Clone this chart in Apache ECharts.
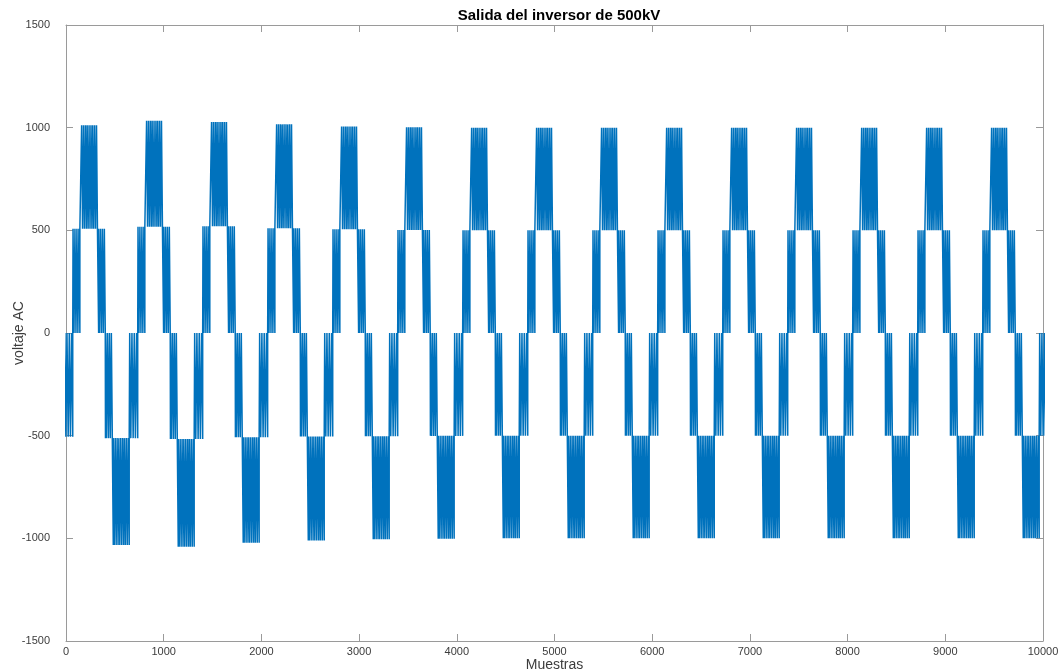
<!DOCTYPE html>
<html>
<head>
<meta charset="utf-8">
<script src="https://cdn.jsdelivr.net/npm/echarts@6/dist/echarts.min.js"></script>
<style>
html,body{margin:0;padding:0;background:#fff;}
#chart{width:1063px;height:672px;}
</style>
</head>
<body>
<div id="chart"></div>
<script>
// ---- data ----
// start sample of each cycle (start of the 0->+500 switching band); first entry is the partial cycle before x=0
const cycleStart = [-593, 72, 737, 1402, 2068, 2733, 3398, 4064, 4729, 5394, 6060, 6725, 7390, 8056, 8721, 9386];
// levels of each cycle
const posPeak = [1000, 1012, 1034, 1027, 1016, 1006, 1002, 1000, 1000, 1000, 1000, 1000, 1000, 1000, 1000, 1000];
const posMid  = [500, 508, 518, 520, 510, 505, 502, 500, 500, 500, 500, 500, 500, 500, 500, 500];
const negMid  = [-505, -512, -516, -508, -504, -503, -501, -500, -500, -500, -500, -500, -500, -500, -500, -500];
const negPeak = [-1000, -1033, -1041, -1021, -1011, -1005, -1002, -1000, -1000, -1000, -1000, -1000, -1000, -1000, -1000, -1000];
// switching bands within a cycle (sample offsets from cycle start)
const bandFrom = [0, 88, 262, 332, 412, 580];
const bandTo   = [70, 250, 330, 402, 575, 662];
// pulse edges inside a band (fraction of band width): on, off, on, off ...
const pulsesWide   = [0.00,0.06, 0.12,0.18, 0.24,0.30, 0.35,0.41, 0.47,0.53, 0.59,0.65, 0.70,0.76, 0.82,0.88, 0.94,1.00];
const pulsesNarrow = [0.00,0.14, 0.28,0.43, 0.57,0.71, 0.86,1.00];
// axis ticks
const xTicks = [0, 1000, 2000, 3000, 4000, 5000, 6000, 7000, 8000, 9000, 10000];
const yTicks = [-1500, -1000, -500, 0, 500, 1000, 1500];

// ---- build the line points from the arrays ----
const pts = [];
for (let k = 0; k < cycleStart.length; k++) {
  const c = cycleStart[k];
  // [lo, hi, entry, exit, pattern] for bands A..F
  const bands = [
    [0, posMid[k], 0, posMid[k], pulsesNarrow],
    [posMid[k], posPeak[k], posMid[k], posMid[k], pulsesWide],
    [0, posMid[k], posMid[k], 0, pulsesNarrow],
    [negMid[k], 0, 0, negMid[k], pulsesNarrow],
    [negPeak[k], negMid[k], negMid[k], negMid[k], pulsesWide],
    [negMid[k], 0, negMid[k], 0, pulsesNarrow]
  ];
  for (let b = 0; b < 6; b++) {
    const [lo, hi, entry, exit, pat] = bands[b];
    const s = c + bandFrom[b], e = c + bandTo[b], w = e - s;
    pts.push([s, entry]);
    for (let i = 0; i < pat.length; i += 2) {
      const t0 = s + pat[i] * w, t1 = s + pat[i + 1] * w;
      pts.push([t0, lo], [t0, hi], [t1, hi], [t1, lo]);
    }
    pts.push([e, lo], [e, exit]);
  }
}

const axisCol = '#9a9a9a';
const labCol = '#3c3c3c';
const font = 'Liberation Sans, Arial, Helvetica, sans-serif';
const chart = echarts.init(document.getElementById('chart'), null, {renderer: 'canvas'});
const baseX = {
  type: 'value', min: xTicks[0], max: xTicks[xTicks.length - 1], interval: 1000,
  splitLine: {show: false},
  axisLine: {show: true, onZero: false, lineStyle: {color: axisCol, width: 1}},
  axisTick: {show: true, inside: true, length: 7, lineStyle: {color: axisCol}}
};
const baseY = {
  type: 'value', min: yTicks[0], max: yTicks[yTicks.length - 1], interval: 500,
  splitLine: {show: false},
  axisLine: {show: true, onZero: false, lineStyle: {color: axisCol, width: 1}},
  axisTick: {show: true, inside: true, length: 7, lineStyle: {color: axisCol}}
};
chart.setOption({
  animation: false,
  backgroundColor: '#ffffff',
  title: {
    text: 'Salida del inversor de 500kV',
    left: 554, top: 3, textAlign: 'center',
    textStyle: {fontFamily: font, fontSize: 15, fontWeight: 'bold', color: '#000'}
  },
  grid: {left: 66, right: 20, top: 25, bottom: 31, containLabel: false, outerBoundsMode: 'none'},
  xAxis: [
    Object.assign({}, baseX, {
      position: 'bottom',
      name: 'Muestras', nameLocation: 'middle', nameGap: 17, nameMoveOverlap: false,
      nameTextStyle: {fontFamily: font, fontSize: 14, color: labCol},
      axisLabel: {fontFamily: font, fontSize: 11, color: labCol, margin: 5, formatter: v => String(v)}
    }),
    Object.assign({}, baseX, {position: 'top', axisLabel: {show: false}})
  ],
  yAxis: [
    Object.assign({}, baseY, {
      position: 'left',
      name: 'voltaje AC', nameLocation: 'middle', nameGap: 40, nameMoveOverlap: false,
      nameTextStyle: {fontFamily: font, fontSize: 14, color: labCol},
      axisLabel: {fontFamily: font, fontSize: 11, color: labCol, margin: 16, formatter: v => String(v)}
    }),
    Object.assign({}, baseY, {position: 'right', axisLabel: {show: false}})
  ],
  series: [{
    type: 'line',
    data: pts,
    xAxisIndex: 0, yAxisIndex: 0,
    showSymbol: false,
    symbol: 'none',
    sampling: null,
    clip: true,
    lineStyle: {color: '#0072BD', width: 1.5},
    z: 2
  }]
});
</script>
</body>
</html>
